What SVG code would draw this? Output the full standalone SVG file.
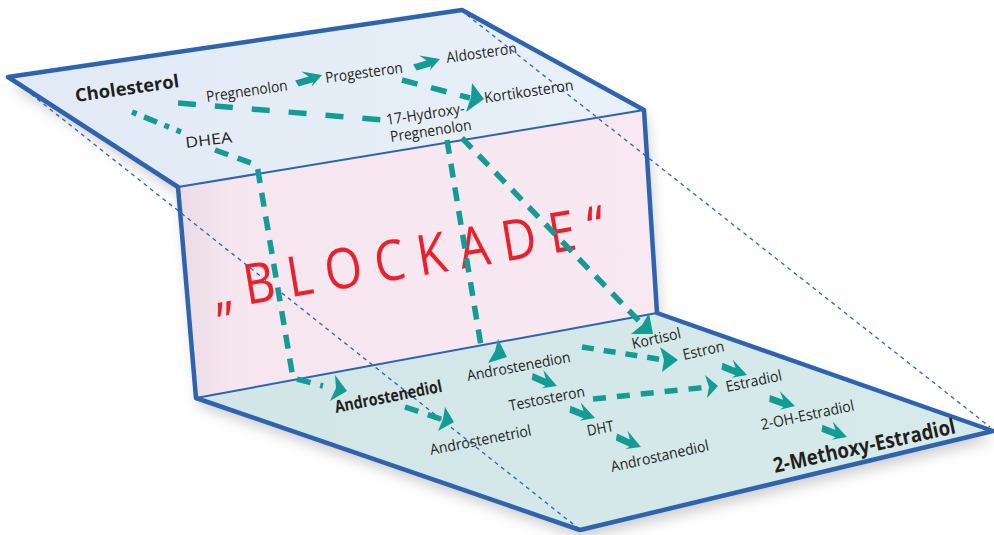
<svg xmlns="http://www.w3.org/2000/svg" xmlns:xlink="http://www.w3.org/1999/xlink" width="994" height="535" viewBox="0 0 994 535">
<style>
.lb{font-family:"Open Sans","Noto Sans","Liberation Sans",sans-serif;font-size:15px;fill:#231f20}
.b{font-weight:bold}
.teal{fill:#139c93}
.dash{fill:none;stroke:#139c93;stroke-width:5.5;stroke-dasharray:14 10}
.hid{fill:none;stroke:#2e63ae;stroke-width:1.3;stroke-dasharray:4 4}
.edge{fill:none;stroke:#2e63ae;stroke-width:4.5;stroke-linejoin:round}
.fold{fill:none;stroke:#2e63ae;stroke-width:2}
</style>
<defs>
<filter id="sh" x="-10%" y="-10%" width="125%" height="130%">
<feDropShadow dx="3" dy="8" stdDeviation="7" flood-color="#000" flood-opacity="0.2"/>
</filter>
<linearGradient id="gTop" x1="0" y1="0" x2="1" y2="0">
<stop offset="0" stop-color="#e1eaf5"/><stop offset="1" stop-color="#e8f0f8"/>
</linearGradient>
<linearGradient id="gMid" x1="0" y1="0" x2="1" y2="0">
<stop offset="0" stop-color="#ecdbe6"/><stop offset="0.12" stop-color="#f5e6ef"/><stop offset="1" stop-color="#f7e8f1"/>
</linearGradient>
<linearGradient id="gBot" x1="0" y1="0" x2="1" y2="0">
<stop offset="0" stop-color="#d2e6e8"/><stop offset="1" stop-color="#d6eaea"/>
</linearGradient>
<path id="sa" d="M0,0 L-18,-11 L-13,-3.5 L-27,-5 L-26,2 L-11,3.5 L-14,7 Z"/>
</defs>

<g id="panels">
<g filter="url(#sh)">
<polygon points="8,77 462,10 644,110 178,187" fill="url(#gTop)"/>
<polygon points="178,187 644,110 657,313 196,398" fill="url(#gMid)"/>
<polygon points="196,398 657,313 993,431 580,530" fill="url(#gBot)"/>
</g>
<path class="fold" d="M178,187 L644,110 M196,398 L657,313"/>
<path class="edge" d="M8,77 L462,10 L644,110 L657,313 L993,431 L580,530 L196,398 L178,187 Z"/>
<path class="hid" d="M31,94 L578,528 M467,15 L990,427"/>
</g>

<g id="blockade">
<text transform="translate(215,310) rotate(-9.5) scale(0.86,1)" textLength="463" lengthAdjust="spacing" style="font-family:'Open Sans','Noto Sans',sans-serif;font-size:56px;fill:#e8212b">„BLOCKADE“</text>
</g>

<g id="connectors">
<path class="dash" style="stroke-dasharray:18 19" d="M178,103 L384,120"/>
<path class="dash" style="stroke-dasharray:16 14" d="M402,80 L470,98"/>
<polygon class="teal" points="472,83 484,99 466,112 471,97"/>
<path class="dash" style="stroke-dasharray:5 8 14 8" d="M132,112 L181,132"/>
<path class="dash" d="M215,150 L254,164 Q258,166 258,171 L293,378 L323,386"/>
<polygon class="teal" points="335,375 347,391 330,401 336,388"/>
<path class="dash" d="M405,407 L444,420"/>
<polygon class="teal" points="445,407 454,422 438,431 443,419"/>
<path class="dash" d="M447,140 L481,346 L487,349"/>
<polygon class="teal" points="498,339 507,357 488,363 495,351"/>
<path class="dash" d="M462,138 L640,322"/>
<polygon class="teal" points="649,313 653,334 631,334 642,325"/>
<path class="dash" style="stroke-dasharray:12 10" d="M582,347 L664,360"/>
<polygon class="teal" points="660,347 678,360 662,372 664,360"/>
<path class="dash" style="stroke-dasharray:13 11" d="M593,399 L709,387"/>
<polygon class="teal" points="705,375 718,386 707,398 709,387"/>
<use href="#sa" class="teal" transform="translate(322,75) rotate(-22)"/>
<use href="#sa" class="teal" transform="translate(440,59) rotate(-22)"/>
<use href="#sa" class="teal" transform="translate(557,386) rotate(18)"/>
<use href="#sa" class="teal" transform="translate(595,418) rotate(16)"/>
<use href="#sa" class="teal" transform="translate(641,447) rotate(19)"/>
<use href="#sa" class="teal" transform="translate(747,375) rotate(16)"/>
<use href="#sa" class="teal" transform="translate(795,406) rotate(13)"/>
<use href="#sa" class="teal" transform="translate(847,437) rotate(16)"/>
</g>

<g id="n-cholesterol"><text class="lb b" style="font-size:18px" transform="translate(76,102) rotate(-8.2)" textLength="105" lengthAdjust="spacingAndGlyphs">Cholesterol</text></g>
<g id="n-pregnenolon"><text class="lb" transform="translate(207,102) rotate(-8.2)" textLength="82" lengthAdjust="spacingAndGlyphs">Pregnenolon</text></g>
<g id="n-progesteron"><text class="lb" transform="translate(326,83) rotate(-7.6)" textLength="78" lengthAdjust="spacingAndGlyphs">Progesteron</text></g>
<g id="n-aldosteron"><text class="lb" transform="translate(447,63) rotate(-8)" textLength="71" lengthAdjust="spacingAndGlyphs">Aldosteron</text></g>
<g id="n-kortikosteron"><text class="lb" transform="translate(485,103) rotate(-8.3)" textLength="90" lengthAdjust="spacingAndGlyphs">Kortikosteron</text></g>
<g id="n-17hydroxy"><text class="lb" transform="translate(387,125) rotate(-8.5)" textLength="79" lengthAdjust="spacingAndGlyphs">17-Hydroxy-</text><text class="lb" transform="translate(391,142) rotate(-8.5)" textLength="82" lengthAdjust="spacingAndGlyphs">Pregnenolon</text></g>
<g id="n-dhea"><text class="lb" transform="translate(186,148) rotate(-7)" textLength="47" lengthAdjust="spacingAndGlyphs">DHEA</text></g>

<g id="n-androstenediol"><text class="lb b" style="font-size:17px" transform="translate(336,413) rotate(-11.3)" textLength="109" lengthAdjust="spacingAndGlyphs">Androstenediol</text></g>
<g id="n-androstenetriol"><text class="lb" transform="translate(431,455) rotate(-11)" textLength="103" lengthAdjust="spacingAndGlyphs">Androstenetriol</text></g>
<g id="n-androstenedion"><text class="lb" transform="translate(468,381) rotate(-10.5)" textLength="105" lengthAdjust="spacingAndGlyphs">Androstenedion</text></g>
<g id="n-testosteron"><text class="lb" transform="translate(510,411) rotate(-11)" textLength="77" lengthAdjust="spacingAndGlyphs">Testosteron</text></g>
<g id="n-dht"><text class="lb" transform="translate(588,436) rotate(-11)" textLength="27" lengthAdjust="spacingAndGlyphs">DHT</text></g>
<g id="n-androstanediol"><text class="lb" transform="translate(612,472) rotate(-12.5)" textLength="100" lengthAdjust="spacingAndGlyphs">Androstanediol</text></g>
<g id="n-kortisol"><text class="lb" transform="translate(633,349) rotate(-12.6)" textLength="50" lengthAdjust="spacingAndGlyphs">Kortisol</text></g>
<g id="n-estron"><text class="lb" transform="translate(684,360) rotate(-12.5)" textLength="42" lengthAdjust="spacingAndGlyphs">Estron</text></g>
<g id="n-estradiol"><text class="lb" transform="translate(727,392) rotate(-12)" textLength="57" lengthAdjust="spacingAndGlyphs">Estradiol</text></g>
<g id="n-2ohestradiol"><text class="lb" transform="translate(762,430) rotate(-12)" textLength="95" lengthAdjust="spacingAndGlyphs">2-OH-Estradiol</text></g>
<g id="n-2methoxy"><text class="lb b" style="font-size:21px" transform="translate(775,473) rotate(-12.4)" textLength="186" lengthAdjust="spacingAndGlyphs">2-Methoxy-Estradiol</text></g>
</svg>
